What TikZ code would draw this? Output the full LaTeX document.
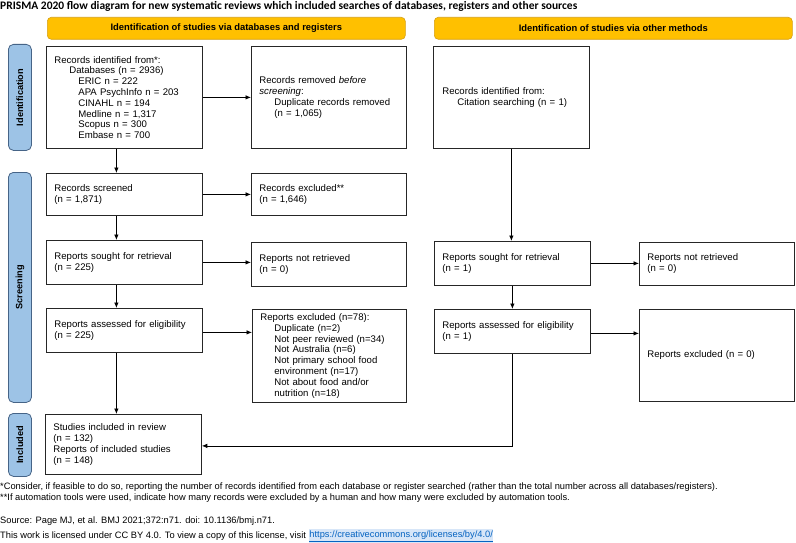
\documentclass[tikz,border=0pt]{standalone}
\usepackage{fontspec}
\setmainfont{Liberation Sans}
\newfontfamily\titlefont{Carlito}
\usetikzlibrary{arrows.meta,positioning,calc}
\definecolor{hdrfill}{RGB}{255,192,0}
\definecolor{hdrdraw}{RGB}{214,160,20}
\definecolor{tabfill}{RGB}{157,195,230}
\definecolor{tabdraw}{RGB}{70,100,135}
\definecolor{linkblue}{RGB}{5,99,193}
\definecolor{linkbg}{RGB}{215,230,248}
\begin{document}
\begin{tikzpicture}[x=1pt,y=-1pt,
  boxfont/.style={font=\fontsize{9.6}{10.8}\selectfont},
  flowbox/.style={draw=black!85, line width=0.8pt, boxfont, align=left,
     inner xsep=8pt, inner ysep=2pt, anchor=north west},
  hdr/.style={draw=hdrdraw, fill=hdrfill, rounded corners=4pt, line width=0.6pt,
     font=\fontsize{9.4}{10}\selectfont\bfseries, anchor=north west, inner sep=0pt},
  tab/.style={draw=tabdraw, fill=tabfill, rounded corners=5pt, line width=0.8pt,
     anchor=north west, inner sep=0pt},
  tablabel/.style={rotate=90, font=\fontsize{9.2}{10}\selectfont\bfseries, inner sep=0pt},
  arr/.style={line width=0.8pt, -{Latex[length=5.5pt,width=4.5pt]}},
  note/.style={font=\fontsize{9.3}{10}\selectfont, anchor=west, inner sep=0pt}
]
\useasboundingbox (0,0) rectangle (796,543);
\fill[white] (0,0) rectangle (796,543);

% title
\node[anchor=west, inner sep=0pt, font=\titlefont\fontsize{11.5}{12}\selectfont\bfseries] (title) at (0,6)
  {PRISMA 2020 flow diagram for new systematic reviews which included searches of databases, registers and other sources};

% headers
\node[hdr, minimum width=358pt, minimum height=22pt] (hL) at (47,17) {Identification of studies via databases and registers};
\node[hdr, minimum width=358pt, minimum height=22pt] (hR) at (434,17) {Identification of studies via other methods};

% side tabs
\node[tab, minimum width=23pt, minimum height=106pt] (tId) at (8,44) {};
\node[tablabel] (tIdL) at (tId.center) {Identification};
\node[tab, minimum width=23pt, minimum height=230pt] (tSc) at (8,172) {};
\node[tablabel] (tScL) at (tSc.center) {Screening};
\node[tab, minimum width=23pt, minimum height=63pt] (tIn) at (8,413) {};
\node[tablabel] (tInL) at (tIn.center) {Included};

% left column
\node[flowbox, text width=140pt, minimum height=102pt] (b1) at (46,46)
 {Records identified from*:\\
  \hspace*{15pt}Databases (n = 2936)\\
  \hspace*{24pt}ERIC n = 222\\
  \hspace*{24pt}APA PsychInfo n = 203\\
  \hspace*{24pt}CINAHL n = 194\\
  \hspace*{24pt}Medline n = 1,317\\
  \hspace*{24pt}Scopus n = 300\\
  \hspace*{24pt}Embase n = 700};
\node[flowbox, text width=139pt, minimum height=102pt] (rem) at (251,46)
 {Records removed \textit{before}\\
  \textit{screening}:\\
  \hspace*{15pt}Duplicate records removed\\
  \hspace*{15pt}(n = 1,065)};

\node[flowbox, text width=140pt, minimum height=42pt] (scr) at (46,173)
 {Records screened\\(n = 1,871)};
\node[flowbox, text width=139pt, minimum height=42pt] (exc) at (251,173)
 {Records excluded**\\(n = 1,646)};

\node[flowbox, text width=140pt, minimum height=44pt] (sou) at (46,240)
 {Reports sought for retrieval\\(n = 225)};
\node[flowbox, text width=139pt, minimum height=44pt] (nret) at (251,242)
 {Reports not retrieved\\(n = 0)};

\node[flowbox, text width=140pt, minimum height=44pt] (ass) at (46,308)
 {Reports assessed for eligibility\\(n = 225)};
\node[flowbox, text width=138pt, minimum height=93pt] (rexc) at (252,309)
 {Reports excluded (n=78):\\
  \hspace*{14pt}Duplicate (n=2)\\
  \hspace*{14pt}Not peer reviewed (n=34)\\
  \hspace*{14pt}Not Australia (n=6)\\
  \hspace*{14pt}Not primary school food\\
  \hspace*{14pt}environment (n=17)\\
  \hspace*{14pt}Not about food and/or\\
  \hspace*{14pt}nutrition (n=18)};

\node[flowbox, text width=140pt, minimum height=60pt] (incl) at (45,414)
 {Studies included in review\\(n = 132)\\Reports of included studies\\(n = 148)};

% right column
\node[flowbox, minimum height=102pt, inner xsep=9pt, text width=138pt] (cit) at (433,46)
 {Records identified from:\\
  \hspace*{15pt}Citation searching (n = 1)\\[8pt]};
\node[flowbox, text width=140pt, minimum height=44pt] (souR) at (434,241)
 {Reports sought for retrieval\\(n = 1)};
\node[flowbox, text width=139pt, minimum height=43pt] (nretR) at (639,242)
 {Reports not retrieved\\(n = 0)};
\node[flowbox, text width=140pt, minimum height=44pt] (assR) at (434,309)
 {Reports assessed for eligibility\\(n = 1)};
\node[flowbox, text width=139pt, minimum height=92pt] (rexcR) at (639,309)
 {Reports excluded (n = 0)};

% connectors left
\draw[arr] (b1.east) -- (rem.west);
\draw[arr] ([xshift=-8pt]b1.south) -- ([xshift=-8pt]b1.south |- scr.north);
\draw[arr] (scr.east) -- (scr.east -| exc.west);
\draw[arr] ([xshift=-8pt]scr.south) -- ([xshift=-8pt]scr.south |- sou.north);
\draw[arr] (sou.east) -- (sou.east -| nret.west);
\draw[arr] ([xshift=-8pt]sou.south) -- ([xshift=-8pt]sou.south |- ass.north);
\draw[arr] ([yshift=-2pt]ass.east) -- ([yshift=-2pt]ass.east -| rexc.west);
\draw[arr] ([xshift=-8pt]ass.south) -- ([xshift=-8pt]ass.south |- incl.north);

% connectors right
\draw[arr] (cit.south) -- (cit.south |- souR.north);
\draw[arr] (souR.east) -- (souR.east -| nretR.west);
\draw[arr] (souR.south) -- (souR.south |- assR.north);
\draw[arr] ([yshift=-2pt]assR.east) -- ([yshift=-2pt]assR.east -| rexcR.west);
\draw[arr] (assR.south) |- ([yshift=-1.5pt]incl.east);

% notes
\node[note] (n1) at (0,487) {*Consider, if feasible to do so, reporting the number of records identified from each database or register searched (rather than the total number across all databases/registers).};
\node[note] (n2) at (0,498.5) {**If automation tools were used, indicate how many records were excluded by a human and how many were excluded by automation tools.};
\node[note] (n3) at (0,521) {Source: Page MJ, et al. BMJ 2021;372:n71. doi: 10.1136/bmj.n71.};
\node[note] (n4) at (0,536) {This work is licensed under CC BY 4.0. To view a copy of this license, visit};
\node[note, fill=linkbg, text=linkblue, inner xsep=0.5pt, inner ysep=1.5pt, right=2.5pt of n4.east, anchor=west] (lnk)
  {\underline{https://creativecommons.org/licenses/by/4.0/}};
\end{tikzpicture}
\end{document}
